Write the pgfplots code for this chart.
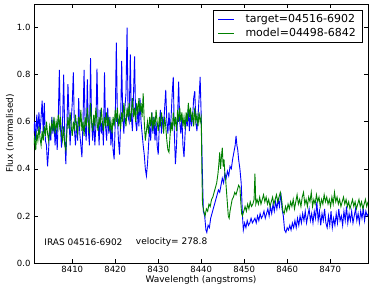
\documentclass[border=0pt]{standalone}
\usepackage{fontspec}
\setmainfont{DejaVu Sans}
\usepackage{pgfplots}
\usepackage{pgfplotstable}
\pgfplotsset{compat=1.18}

\pgfplotstableread{
x y
8401.00 0.55
8401.25 0.60
8401.50 0.52
8401.75 0.63
8402.00 0.56
8402.25 0.64
8402.50 0.55
8402.75 0.62
8403.00 0.69
8403.25 0.55
8403.50 0.68
8403.75 0.52
8404.00 0.50
8404.25 0.41
8404.50 0.48
8404.75 0.58
8405.00 0.52
8405.25 0.62
8405.50 0.55
8405.75 0.61
8406.00 0.50
8406.25 0.58
8406.50 0.48
8406.75 0.62
8407.00 0.82
8407.25 0.58
8407.50 0.49
8407.75 0.60
8408.00 0.80
8408.25 0.55
8408.50 0.42
8408.75 0.58
8409.00 0.76
8409.25 0.62
8409.50 0.50
8409.75 0.60
8410.00 0.68
8410.25 0.81
8410.50 0.57
8410.75 0.50
8411.00 0.60
8411.25 0.52
8411.50 0.70
8411.75 0.55
8412.00 0.50
8412.25 0.45
8412.50 0.60
8412.75 0.82
8413.00 0.58
8413.25 0.52
8413.50 0.78
8413.75 0.56
8414.00 0.50
8414.25 0.87
8414.50 0.60
8414.75 0.52
8415.00 0.62
8415.25 0.50
8415.50 0.58
8415.75 0.825
8416.00 0.60
8416.25 0.50
8416.50 0.65
8416.75 0.55
8417.00 0.60
8417.25 0.50
8417.50 0.81
8417.75 0.58
8418.00 0.52
8418.25 0.66
8418.50 0.55
8418.75 0.62
8419.00 0.50
8419.25 0.58
8419.50 0.48
8419.75 0.44
8420.00 0.60
8420.25 0.936
8420.50 0.62
8420.75 0.52
8421.00 0.46
8421.25 0.60
8421.50 0.858
8421.75 0.62
8422.00 0.55
8422.25 0.66
8422.50 0.72
8422.75 1.00
8423.00 0.62
8423.25 0.60
8423.50 0.886
8423.75 0.62
8424.00 0.56
8424.25 0.72
8424.50 0.877
8424.75 0.60
8425.00 0.56
8425.25 0.66
8425.50 0.58
8425.75 0.70
8426.00 0.60
8426.25 0.55
8426.50 0.50
8426.75 0.46
8427.00 0.40
8427.25 0.37
8427.50 0.42
8427.75 0.50
8428.00 0.58
8428.25 0.52
8428.50 0.64
8428.75 0.55
8429.00 0.62
8429.25 0.52
8429.50 0.60
8429.75 0.50
8430.00 0.46
8430.25 0.58
8430.50 0.65
8430.75 0.55
8431.00 0.62
8431.25 0.58
8431.50 0.66
8431.75 0.735
8432.00 0.60
8432.25 0.55
8432.50 0.64
8432.75 0.56
8433.00 0.62
8433.25 0.72
8433.50 0.79
8433.75 0.55
8434.00 0.42
8434.25 0.50
8434.50 0.62
8434.75 0.77
8435.00 0.60
8435.25 0.55
8435.50 0.62
8435.75 0.50
8436.00 0.45
8436.25 0.55
8436.50 0.62
8436.75 0.58
8437.00 0.66
8437.25 0.56
8437.50 0.64
8437.75 0.58
8438.00 0.62
8438.25 0.70
8438.50 0.73
8438.75 0.60
8439.00 0.56
8439.25 0.62
8439.50 0.70
8439.75 0.79
8440.00 0.62
8440.25 0.40
8440.50 0.22
8440.80 0.20
8441.10 0.14
8441.30 0.13
8441.60 0.16
8441.90 0.15
8442.20 0.19
8442.50 0.21
8442.80 0.23
8443.10 0.25
8443.40 0.27
8443.70 0.29
8444.00 0.31
8444.30 0.30
8444.60 0.33
8444.90 0.36
8445.20 0.34
8445.50 0.38
8445.80 0.36
8446.10 0.39
8446.40 0.37
8446.70 0.41
8447.00 0.40
8447.30 0.44
8447.60 0.47
8447.90 0.50
8448.10 0.54
8448.30 0.50
8448.50 0.48
8448.70 0.44
8449.00 0.40
8449.30 0.34
8449.60 0.20
8449.80 0.14
8450.1 0.17
8450.4 0.15
8450.7 0.18
8451.0 0.16
8451.3 0.17
8451.6 0.19
8451.9 0.17
8452.2 0.18
8452.5 0.19
8452.8 0.17
8453.1 0.20
8453.4 0.18
8453.7 0.21
8454.0 0.19
8454.3 0.20
8454.6 0.22
8454.9 0.19
8455.2 0.21
8455.5 0.23
8455.8 0.20
8456.1 0.24
8456.4 0.21
8456.7 0.25
8457.0 0.22
8457.3 0.26
8457.6 0.23
8457.9 0.27
8458.2 0.24
8458.5 0.30
8458.8 0.23
8459.1 0.20
8459.4 0.14
8459.7 0.13
8460.0 0.15
8460.3 0.14
8460.6 0.16
8460.9 0.14
8461.2 0.17
8461.5 0.15
8461.8 0.18
8462.1 0.15
8462.4 0.19
8462.7 0.16
8463.0 0.20
8463.3 0.17
8463.6 0.21
8463.9 0.18
8464.2 0.22
8464.5 0.17
8464.8 0.20
8465.1 0.23
8465.4 0.18
8465.7 0.21
8466.0 0.17
8466.3 0.22
8466.6 0.19
8466.9 0.26
8467.2 0.18
8467.5 0.22
8467.8 0.16
8468.1 0.21
8468.4 0.18
8468.7 0.23
8469.0 0.17
8469.3 0.15
8469.6 0.20
8469.9 0.16
8470.2 0.22
8470.5 0.15
8470.8 0.19
8471.1 0.16
8471.4 0.21
8471.7 0.17
8472.0 0.23
8472.3 0.18
8472.6 0.20
8472.9 0.16
8473.2 0.22
8473.5 0.18
8473.8 0.24
8474.1 0.17
8474.4 0.21
8474.7 0.18
8475.0 0.22
8475.3 0.17
8475.6 0.20
8475.9 0.23
8476.2 0.18
8476.5 0.21
8476.8 0.17
8477.1 0.22
8477.4 0.19
8477.7 0.23
8478.0 0.18
8478.3 0.22
8478.6 0.20
8478.9 0.21
}\target

\pgfplotstableread{
x y
8401.00 0.50
8401.25 0.54
8401.50 0.48
8401.75 0.55
8402.00 0.52
8402.25 0.58
8402.50 0.53
8402.75 0.50
8403.00 0.56
8403.25 0.52
8403.50 0.58
8403.75 0.54
8404.00 0.60
8404.25 0.55
8404.50 0.52
8404.75 0.58
8405.00 0.55
8405.25 0.60
8405.50 0.56
8405.75 0.62
8406.00 0.55
8406.25 0.60
8406.50 0.57
8406.75 0.63
8407.00 0.58
8407.25 0.62
8407.50 0.55
8407.75 0.52
8408.00 0.58
8408.25 0.50
8408.50 0.48
8408.75 0.56
8409.00 0.62
8409.25 0.57
8409.50 0.64
8409.75 0.58
8410.00 0.54
8410.25 0.60
8410.50 0.56
8410.75 0.63
8411.00 0.58
8411.25 0.55
8411.50 0.62
8411.75 0.58
8412.00 0.65
8412.25 0.56
8412.50 0.60
8412.75 0.54
8413.00 0.62
8413.25 0.58
8413.50 0.66
8413.75 0.60
8414.00 0.55
8414.25 0.68
8414.50 0.60
8414.75 0.56
8415.00 0.63
8415.25 0.58
8415.50 0.66
8415.75 0.60
8416.00 0.56
8416.25 0.62
8416.50 0.58
8416.75 0.66
8417.00 0.60
8417.25 0.56
8417.50 0.62
8417.75 0.58
8418.00 0.64
8418.25 0.58
8418.50 0.62
8418.75 0.56
8419.00 0.60
8419.25 0.55
8419.50 0.62
8419.75 0.58
8420.00 0.65
8420.25 0.60
8420.50 0.66
8420.75 0.58
8421.00 0.62
8421.25 0.57
8421.50 0.64
8421.75 0.60
8422.00 0.68
8422.25 0.62
8422.50 0.58
8422.75 0.66
8423.00 0.62
8423.25 0.68
8423.50 0.60
8423.75 0.64
8424.00 0.70
8424.25 0.62
8424.50 0.66
8424.75 0.60
8425.00 0.68
8425.25 0.63
8425.50 0.70
8425.75 0.64
8426.00 0.68
8426.25 0.62
8426.50 0.72
8426.75 0.60
8427.00 0.52
8427.25 0.56
8427.50 0.60
8427.75 0.55
8428.00 0.62
8428.25 0.58
8428.50 0.64
8428.75 0.56
8429.00 0.62
8429.25 0.58
8429.50 0.65
8429.75 0.60
8430.00 0.56
8430.25 0.62
8430.50 0.58
8430.75 0.64
8431.00 0.60
8431.25 0.55
8431.50 0.62
8431.75 0.58
8432.00 0.52
8432.25 0.48
8432.50 0.47
8432.75 0.54
8433.00 0.60
8433.25 0.56
8433.50 0.64
8433.75 0.58
8434.00 0.62
8434.25 0.56
8434.50 0.65
8434.75 0.60
8435.00 0.66
8435.25 0.60
8435.50 0.64
8435.75 0.58
8436.00 0.62
8436.25 0.57
8436.50 0.64
8436.75 0.60
8437.00 0.68
8437.25 0.62
8437.50 0.66
8437.75 0.60
8438.00 0.64
8438.25 0.58
8438.50 0.66
8438.75 0.60
8439.00 0.63
8439.25 0.58
8439.50 0.64
8439.75 0.60
8440.00 0.62
8440.15 0.40
8440.30 0.25
8440.60 0.22
8440.90 0.20
8441.20 0.23
8441.50 0.22
8441.80 0.25
8442.10 0.24
8442.40 0.27
8442.70 0.28
8443.00 0.30
8443.30 0.32
8443.60 0.34
8443.90 0.38
8444.10 0.42
8444.30 0.47
8444.50 0.40
8444.70 0.45
8444.90 0.49
8445.10 0.41
8445.30 0.44
8445.50 0.38
8445.70 0.35
8445.90 0.30
8446.10 0.25
8446.30 0.20
8446.50 0.19
8446.70 0.22
8446.90 0.24
8447.20 0.27
8447.50 0.28
8447.80 0.30
8448.10 0.29
8448.40 0.31
8448.70 0.33
8449.00 0.32
8449.20 0.26
8449.40 0.21
8449.6 0.20
8449.9 0.22
8450.2 0.24
8450.5 0.22
8450.8 0.25
8451.1 0.23
8451.4 0.26
8451.7 0.24
8452.0 0.25
8452.3 0.27
8452.5 0.38
8452.7 0.25
8453.0 0.27
8453.3 0.25
8453.6 0.28
8453.9 0.25
8454.2 0.27
8454.5 0.29
8454.8 0.26
8455.1 0.28
8455.4 0.25
8455.7 0.27
8456.0 0.24
8456.3 0.26
8456.6 0.28
8456.9 0.25
8457.2 0.27
8457.5 0.29
8457.8 0.26
8458.1 0.28
8458.4 0.30
8458.7 0.27
8459.0 0.22
8459.3 0.21
8459.6 0.24
8459.9 0.22
8460.2 0.25
8460.5 0.23
8460.8 0.26
8461.1 0.24
8461.4 0.27
8461.7 0.23
8462.0 0.26
8462.3 0.29
8462.6 0.25
8462.9 0.27
8463.2 0.24
8463.5 0.28
8463.8 0.30
8464.1 0.25
8464.4 0.27
8464.7 0.24
8465.0 0.28
8465.3 0.26
8465.6 0.30
8465.9 0.24
8466.2 0.27
8466.5 0.25
8466.8 0.29
8467.1 0.26
8467.4 0.28
8467.7 0.24
8468.0 0.27
8468.3 0.25
8468.6 0.29
8468.9 0.26
8469.2 0.28
8469.5 0.25
8469.8 0.27
8470.1 0.24
8470.4 0.28
8470.7 0.25
8471.0 0.30
8471.3 0.26
8471.6 0.28
8471.9 0.25
8472.2 0.27
8472.5 0.24
8472.8 0.26
8473.1 0.28
8473.4 0.25
8473.7 0.27
8474.0 0.24
8474.3 0.26
8474.6 0.23
8474.9 0.25
8475.2 0.27
8475.5 0.24
8475.8 0.26
8476.1 0.23
8476.4 0.25
8476.7 0.27
8477.0 0.24
8477.3 0.26
8477.6 0.23
8477.9 0.25
8478.2 0.27
8478.5 0.24
8478.8 0.26
}\model

\definecolor{mplgreen}{rgb}{0,0.5,0}

\begin{document}
\begin{tikzpicture}
\begin{axis}[
  scale only axis,
  width=334pt, height=259pt,
  xmin=8401.1, xmax=8478.8,
  ymin=0, ymax=1.1,
  xtick={8410,8420,8430,8440,8450,8460,8470},
  ytick={0,0.2,0.4,0.6,0.8,1.0},
  /pgf/number format/assume math mode=true,
  x tick label style={/pgf/number format/1000 sep={}},
  yticklabel style={/pgf/number format/fixed,/pgf/number format/fixed zerofill,/pgf/number format/precision=1},
  tick label style={font=\fontsize{8.5}{10}\selectfont},
  label style={font=\fontsize{9}{11}\selectfont},
  tick align=inside,
  major tick length=4pt,
  tick style={black, line width=0.5pt},
  axis line style={black, line width=0.8pt},
  xlabel={Wavelength (angstroms)},
  ylabel={Flux (normalised)},
  xlabel style={yshift=4pt},
  ylabel style={yshift=-4pt},
  legend style={at={(0.9825,0.977)}, anchor=north east,
    font=\fontsize{11}{13}\selectfont, inner xsep=4pt, inner ysep=2.5pt, row sep=0pt,
    /tikz/column 1/.style={column sep=9pt}},
  legend image code/.code={\draw[#1] (0pt,0pt) -- (16pt,0pt);},
  legend cell align=left,
]
\addplot[blue, line width=0.9pt] table[x=x,y=y] {\target};
\addlegendentry{target=04516-6902}
\addplot[mplgreen, line width=0.9pt] table[x=x,y=y] {\model};
\addlegendentry{model=04498-6842}
\node[anchor=west, font=\fontsize{9}{11}\selectfont] at (axis cs:8402.7,0.09) {IRAS 04516-6902};
\node[anchor=west, font=\fontsize{9}{11}\selectfont] at (axis cs:8424.0,0.09) {velocity= 278.8};
\end{axis}
\pgfresetboundingbox
\path ([shift={(-34pt,-27.7pt)}]current axis.south west) rectangle ([shift={(6pt,4pt)}]current axis.north east);
\end{tikzpicture}
\end{document}
